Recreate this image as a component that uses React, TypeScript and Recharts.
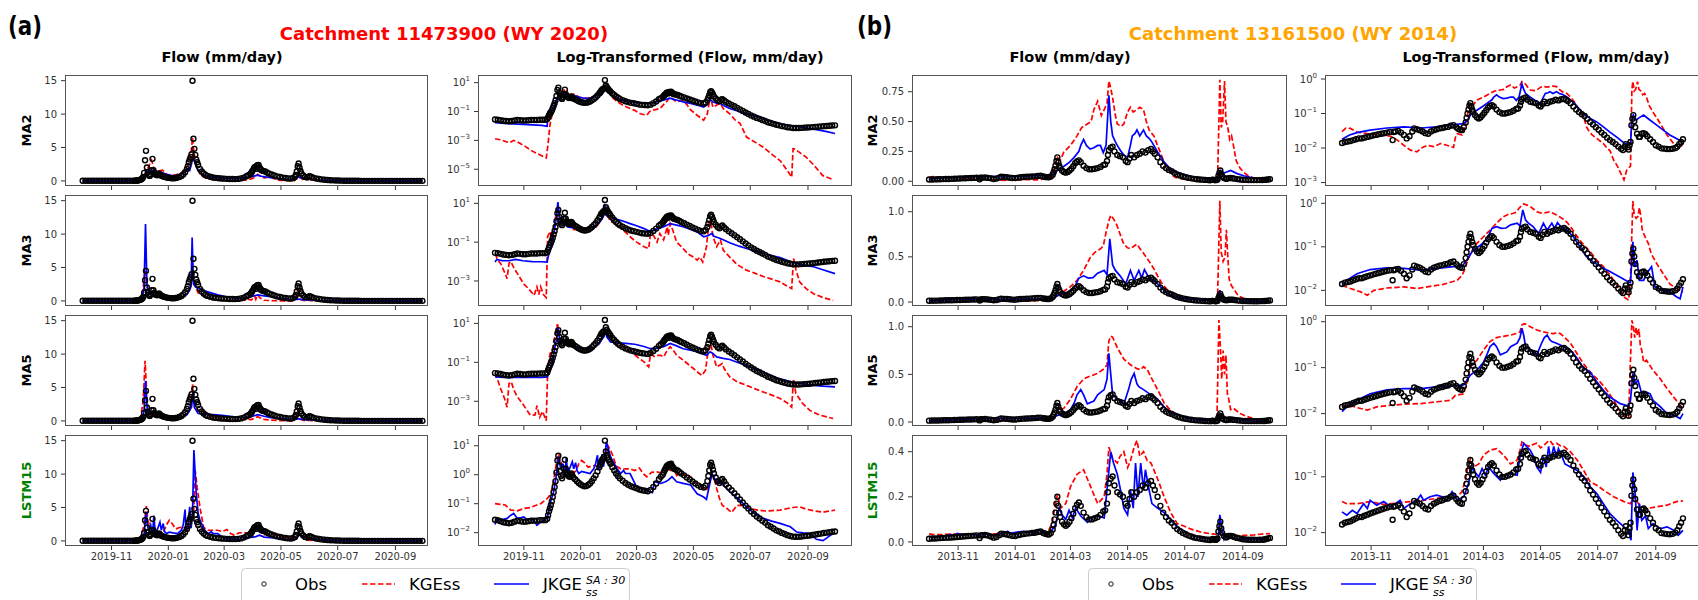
import React from 'react';
import { ComposedChart, Line, XAxis, YAxis } from 'recharts';

type P = [number, number];

// day 0 = 2019-10-01 (catchment 11473900, WY 2020)
const ticksA = [31, 92, 152, 213, 274, 336];
const tickLabelsA = ['2019-11', '2020-01', '2020-03', '2020-05', '2020-07', '2020-09'];
// day 0 = 2013-10-01 (catchment 13161500, WY 2014)
const ticksB = [31, 92, 151, 212, 273, 335];
const tickLabelsB = ['2013-11', '2014-01', '2014-03', '2014-05', '2014-07', '2014-09'];

const models = ['MA2', 'MA3', 'MA5', 'LSTM15'];

const obsA: P[] = [
  [0, 0.028], [3, 0.027], [6, 0.025], [9, 0.023], [12, 0.022], [15, 0.021], [18, 0.022], [21, 0.024], [24, 0.026],
  [27, 0.025], [30, 0.024], [33, 0.024], [36, 0.025], [39, 0.026], [42, 0.026], [45, 0.026], [48, 0.027], [51, 0.027],
  [54, 0.027], [56, 0.03], [57, 0.04], [58, 0.055], [59, 0.07], [60, 0.09], [61, 0.12], [62, 0.17], [63, 0.25],
  [64, 0.38], [65, 0.6], [66, 1.2], [67, 3.1], [68, 4.5], [69, 2.0], [70, 1.3], [71, 0.9], [72, 0.75], [73, 1.0],
  [74, 1.6], [75, 3.3], [76, 1.6], [77, 1.2], [78, 1.0], [79, 0.9], [80, 0.85], [81, 1.0], [82, 1.1], [83, 0.95],
  [84, 0.8], [86, 0.7], [88, 0.6], [90, 0.52], [92, 0.46], [94, 0.42], [96, 0.4], [98, 0.41], [100, 0.44], [102, 0.5],
  [104, 0.6], [106, 0.75], [108, 0.95], [110, 1.3], [112, 1.8], [113, 2.2], [114, 2.8], [115, 3.2], [116, 3.6],
  [117, 4.0], [118, 15.0], [119, 6.3], [120, 4.8], [121, 3.9], [122, 3.2], [123, 2.8], [124, 2.4], [126, 1.8],
  [128, 1.4], [130, 1.1], [132, 0.9], [134, 0.75], [137, 0.62], [140, 0.52], [143, 0.45], [146, 0.4], [149, 0.37],
  [152, 0.34], [155, 0.31], [158, 0.29], [161, 0.28], [164, 0.27], [167, 0.3], [170, 0.38], [173, 0.5], [176, 0.7],
  [178, 0.85], [180, 1.0], [181, 1.2], [182, 1.4], [183, 1.6], [184, 1.9], [185, 2.1], [186, 1.8], [187, 2.3],
  [188, 2.2], [189, 2.4], [190, 2.0], [191, 1.8], [192, 1.6], [194, 1.5], [196, 1.4], [198, 1.25], [200, 1.1],
  [203, 0.95], [206, 0.8], [209, 0.68], [212, 0.58], [215, 0.5], [218, 0.43], [221, 0.38], [224, 0.36], [226, 0.42],
  [228, 0.6], [229, 0.9], [230, 1.4], [231, 2.2], [232, 2.6], [233, 2.0], [234, 1.5], [235, 1.1], [237, 0.8],
  [239, 0.6], [241, 0.52], [243, 0.65], [244, 0.72], [246, 0.58], [248, 0.46], [251, 0.36], [254, 0.29], [257, 0.23],
  [260, 0.18], [263, 0.14], [266, 0.11], [269, 0.085], [272, 0.068], [275, 0.054], [278, 0.044], [281, 0.036],
  [284, 0.031], [287, 0.026], [290, 0.022], [293, 0.018], [296, 0.016], [299, 0.014], [302, 0.012], [305, 0.011],
  [308, 0.0098], [311, 0.009], [314, 0.0082], [317, 0.0077], [320, 0.0073], [323, 0.0072], [326, 0.0072],
  [329, 0.0074], [332, 0.0076], [335, 0.0078], [338, 0.008], [341, 0.0083], [344, 0.0086], [347, 0.009],
  [350, 0.0093], [353, 0.0097], [356, 0.01], [359, 0.0104], [362, 0.0108], [365, 0.011],
];

const kgeA_MA2: P[] = [
  [0, 0.0013], [6, 0.0011], [12, 0.0008], [16, 0.0007], [20, 0.001], [24, 0.0008], [32, 0.0004], [40, 0.00018],
  [48, 0.0001], [55, 0.00006], [57, 0.0006], [59, 0.012], [61, 0.05], [63, 0.1], [65, 0.35], [67, 1.1], [68, 1.4],
  [70, 1.9], [72, 2.5], [74, 3.1], [76, 2.1], [78, 1.6], [82, 1.5], [86, 1.6], [90, 1.0], [95, 0.8], [100, 0.9],
  [105, 1.1], [110, 1.6], [114, 2.6], [116, 3.5], [118, 6.5], [119, 5.0], [121, 3.0], [124, 1.6], [127, 0.8],
  [132, 0.45], [137, 0.28], [142, 0.2], [150, 0.12], [156, 0.07], [163, 0.055], [166, 0.1], [171, 0.13], [177, 0.16],
  [181, 0.3], [184, 0.47], [188, 1.0], [191, 0.7], [195, 0.47], [199, 0.55], [202, 0.6], [206, 0.3], [210, 0.13],
  [214, 0.08], [217, 0.055], [224, 0.025], [228, 0.07], [231, 1.1], [234, 0.2], [238, 0.28], [242, 0.36], [245, 0.16],
  [252, 0.07], [258, 0.025], [263, 0.015], [270, 0.0017], [280, 0.0007], [288, 0.00034], [298, 0.0001],
  [306, 0.00004], [314, 0.000008], [318.5, 0.0000028], [320, 0.00026], [322, 0.00025], [328, 0.00013],
  [334, 0.00007], [342, 0.00002], [352, 0.0000036], [363, 0.0000019],
];
const jkgeA_MA2: P[] = [
  [0, 0.017], [10, 0.015], [20, 0.014], [30, 0.013], [40, 0.012], [50, 0.011], [56, 0.0095], [57, 0.1], [60, 0.13],
  [63, 0.16], [65, 0.4], [67, 1.0], [69, 1.3], [72, 1.5], [75, 1.6], [78, 1.4], [82, 1.4], [86, 1.2], [90, 1.0],
  [95, 0.85], [100, 0.8], [105, 1.0], [110, 1.3], [113, 1.8], [115, 1.6], [117, 2.6], [118.5, 3.8], [120, 3.0],
  [123, 1.8], [127, 1.1], [131, 0.8], [138, 0.6], [145, 0.47], [155, 0.4], [163, 0.36], [170, 0.42], [177, 0.55],
  [181, 0.6], [185, 0.75], [188, 0.85], [192, 0.7], [196, 0.6], [202, 0.47], [210, 0.36], [217, 0.28], [224, 0.2],
  [228, 0.3], [231, 0.7], [234, 0.45], [238, 0.38], [242, 0.36], [246, 0.25], [252, 0.16], [262, 0.1], [270, 0.068],
  [280, 0.047], [288, 0.034], [300, 0.018], [312, 0.012], [324, 0.0095], [335, 0.007], [345, 0.0055], [355, 0.0042],
  [365, 0.003],
];

const kgeA_MA3: P[] = [
  [0, 0.026], [3, 0.012], [6, 0.008], [10, 0.003], [13, 0.0013], [15, 0.008], [17, 0.01], [20, 0.005], [25, 0.002],
  [31, 0.0007], [36, 0.0004], [42, 0.00018], [45, 0.0005], [47, 0.0002], [49, 0.0005], [52, 0.0002], [55, 0.00014],
  [56.5, 0.19], [59, 0.35], [61, 0.15], [63, 0.5], [65, 2.0], [67, 4.5], [69, 2.0], [72, 1.4], [76, 1.5], [80, 1.3],
  [84, 0.45], [90, 0.42], [96, 0.5], [102, 0.45], [108, 0.55], [112, 1.0], [115, 1.8], [117, 3.0], [118.5, 4.3],
  [120, 2.5], [124, 1.2], [131, 0.76], [138, 0.4], [145, 0.19], [152, 0.1], [160, 0.058], [165, 0.047], [167, 0.28],
  [170, 0.23], [174, 0.1], [177, 0.28], [181, 0.13], [185, 0.62], [186, 0.23], [188, 0.9], [191, 0.4], [195, 0.1],
  [202, 0.047], [207, 0.025], [213, 0.017], [217, 0.012], [220, 0.017], [223, 0.0095], [227, 0.058], [229, 0.5],
  [231, 2.0], [234, 0.19], [238, 0.058], [242, 0.13], [245, 0.039], [252, 0.017], [260, 0.007], [270, 0.0036],
  [280, 0.0024], [288, 0.0017], [298, 0.0012], [306, 0.0009], [312, 0.0006], [318.5, 0.0004], [320.5, 0.0145],
  [323, 0.004], [327, 0.0009], [334, 0.0004], [342, 0.00022], [352, 0.00014], [363, 0.0001],
];
const jkgeA_MA3: P[] = [
  [0, 0.0095], [2, 0.013], [8, 0.011], [15, 0.011], [22, 0.013], [30, 0.011], [40, 0.01], [50, 0.0098], [56, 0.0095],
  [57, 0.017], [61, 0.13], [64, 0.5], [66, 2.0], [67.5, 11.5], [69, 2.5], [71, 1.0], [74, 0.9], [78, 0.6], [84, 0.55],
  [90, 0.5], [96, 0.5], [102, 0.55], [108, 0.7], [112, 1.0], [115, 1.6], [116.5, 2.2], [117.6, 9.5], [119, 2.5],
  [122, 2.0], [126, 1.8], [131, 1.5], [138, 1.2], [145, 0.9], [152, 0.7], [160, 0.5], [167, 0.34], [170, 0.42],
  [175, 0.5], [181, 0.62], [188, 0.9], [195, 0.75], [202, 0.62], [210, 0.45], [217, 0.34], [224, 0.19], [229, 0.22],
  [233, 0.28], [235, 0.2], [242, 0.155], [252, 0.093], [262, 0.062], [270, 0.047], [280, 0.034], [288, 0.026],
  [298, 0.02], [306, 0.016], [315, 0.011], [324, 0.008], [334, 0.0062], [342, 0.0054], [352, 0.0038], [365, 0.0024],
];

const kgeA_MA5: P[] = [
  [0, 0.029], [3, 0.012], [6, 0.0045], [10, 0.0015], [13, 0.0005], [15, 0.008], [17.5, 0.01], [20, 0.004],
  [24, 0.0017], [30, 0.0007], [38, 0.00019], [43, 0.0002], [45, 0.0006], [48, 0.00015], [51, 0.0003], [55, 0.0001],
  [56.5, 0.032], [58, 0.15], [60, 0.42], [62, 0.5], [63, 1.2], [65, 3.0], [67, 9.0], [68.5, 5.0], [70, 1.4], [72, 0.9],
  [76, 0.8], [80, 0.7], [86, 0.6], [92, 0.5], [98, 0.45], [104, 0.5], [110, 0.8], [114, 1.4], [116, 2.0], [118, 5.5],
  [119.5, 3.0], [122, 1.8], [126, 1.4], [131, 1.1], [138, 0.65], [145, 0.42], [152, 0.2], [160, 0.105], [165, 0.058],
  [167, 0.28], [171, 0.2], [175, 0.23], [178, 0.23], [181, 0.19], [185, 0.42], [188, 0.63], [192, 0.38], [195, 0.23],
  [202, 0.13], [208, 0.075], [213, 0.048], [218, 0.03], [222, 0.021], [226, 0.039], [228, 0.2], [231, 1.4],
  [234, 0.23], [238, 0.058], [242, 0.075], [244, 0.087], [246, 0.048], [252, 0.018], [260, 0.01], [270, 0.0066],
  [280, 0.0042], [288, 0.003], [298, 0.002], [306, 0.0014], [314, 0.0008], [318.5, 0.0005], [320.5, 0.014],
  [323, 0.0025], [330, 0.0008], [338, 0.00034], [348, 0.0002], [363, 0.00013],
];
const jkgeA_MA5: P[] = [
  [0, 0.018], [10, 0.017], [20, 0.017], [30, 0.017], [40, 0.017], [50, 0.017], [56, 0.018], [58, 0.027], [61, 0.087],
  [64, 0.5], [66, 1.5], [67.5, 6.0], [69.5, 1.5], [72, 1.1], [76, 0.8], [82, 0.65], [90, 0.55], [98, 0.5], [106, 0.55],
  [112, 0.9], [115, 1.6], [117, 2.1], [118.5, 4.2], [120, 2.0], [124, 1.1], [131, 1.0], [140, 0.95], [150, 0.85],
  [160, 0.65], [167, 0.5], [175, 0.55], [181, 0.63], [188, 0.93], [195, 0.7], [202, 0.5], [210, 0.42], [217, 0.35],
  [222, 0.28], [227, 0.23], [231, 0.35], [234, 0.28], [238, 0.19], [245, 0.16], [252, 0.14], [260, 0.1], [270, 0.07],
  [280, 0.045], [288, 0.032], [298, 0.02], [306, 0.014], [315, 0.011], [324, 0.0087], [334, 0.0075], [342, 0.0066],
  [352, 0.006], [365, 0.0055],
];

const kgeA_L15: P[] = [
  [0, 0.1], [6, 0.095], [11, 0.09], [17, 0.06], [24, 0.057], [31, 0.068], [38, 0.074], [45, 0.09], [49, 0.1],
  [56, 0.15], [60, 0.22], [63, 0.65], [66, 2.5], [68.5, 5.2], [70, 3.0], [73, 2.0], [76, 1.6], [80, 1.4], [84, 1.1],
  [87, 1.4], [90, 2.4], [93, 3.1], [96, 2.6], [100, 1.8], [104, 2.0], [108, 2.1], [112, 1.6], [115, 2.1], [117, 2.6],
  [119, 3.6], [121, 10.5], [123, 8.0], [126, 5.0], [130, 2.0], [135, 1.6], [140, 1.6], [145, 1.6], [150, 1.4],
  [155, 1.7], [159, 1.1], [163, 0.85], [168, 1.2], [174, 1.25], [180, 1.1], [184, 1.6], [188, 1.4], [192, 1.6],
  [195, 0.93], [200, 1.1], [205, 1.0], [210, 0.85], [214, 0.6], [217, 0.5], [222, 0.38], [227, 0.29], [230, 0.5],
  [233, 1.1], [236, 0.6], [238, 0.33], [241, 0.15], [244, 0.088], [249, 0.068], [254, 0.05], [260, 0.088],
  [268, 0.085], [274, 0.068], [282, 0.06], [290, 0.056], [298, 0.058], [306, 0.06], [314, 0.068], [320, 0.074],
  [327, 0.078], [334, 0.065], [342, 0.057], [352, 0.051], [358, 0.055], [365, 0.06],
];
const jkgeA_L15: P[] = [
  [0, 0.019], [2, 0.03], [6, 0.027], [13, 0.031], [17, 0.04], [20, 0.046], [24, 0.031], [28, 0.033], [31, 0.035],
  [35, 0.027], [39, 0.031], [42, 0.025], [45, 0.018], [49, 0.023], [53, 0.028], [56, 0.031], [60, 0.13], [63, 0.26],
  [66, 1.0], [68, 4.3], [70, 2.0], [71, 1.6], [73, 2.4], [75, 0.85], [76.5, 3.8], [78, 1.1], [80, 1.6], [83, 2.8],
  [84.5, 1.6], [86.5, 2.6], [88, 1.4], [90, 1.1], [93, 1.3], [97, 1.2], [102, 1.1], [106, 1.6], [108, 2.4],
  [110, 4.7], [111, 1.6], [113, 2.0], [115, 5.1], [116.5, 1.9], [118, 4.0], [119.5, 13.6], [122, 7.1], [124, 4.2],
  [126, 3.1], [131, 1.6], [135, 1.1], [138, 1.4], [140, 1.1], [145, 1.1], [152, 0.38], [158, 0.32], [163, 0.28],
  [169, 0.24], [171, 0.57], [178, 0.5], [183, 0.57], [186, 0.65], [190, 0.85], [195, 0.57], [202, 0.5], [210, 0.44],
  [217, 0.22], [224, 0.17], [227, 0.14], [230, 0.4], [233, 1.1], [236, 0.7], [238, 0.57], [245, 0.44], [252, 0.26],
  [258, 0.18], [263, 0.13], [268, 0.09], [274, 0.06], [281, 0.042], [288, 0.031], [297, 0.025], [306, 0.021],
  [317, 0.016], [324, 0.0105], [331, 0.0098], [338, 0.0093], [345, 0.0059], [352, 0.0053], [356, 0.0065],
  [360, 0.0081], [365, 0.01],
];

const obsB: P[] = [
  [0, 0.014], [3, 0.015], [6, 0.0155], [9, 0.016], [12, 0.017], [15, 0.018], [18, 0.019], [21, 0.019], [24, 0.02],
  [27, 0.021], [30, 0.022], [33, 0.023], [36, 0.024], [39, 0.025], [42, 0.026], [45, 0.027], [48, 0.028], [51, 0.029],
  [54, 0.017], [55, 0.029], [57, 0.03], [60, 0.031], [63, 0.028], [66, 0.024], [69, 0.019], [72, 0.022], [75, 0.03],
  [77, 0.037], [80, 0.035], [83, 0.033], [86, 0.03], [89, 0.027], [92, 0.026], [95, 0.03], [98, 0.033], [101, 0.035],
  [104, 0.037], [107, 0.038], [110, 0.04], [113, 0.041], [116, 0.044], [119, 0.046], [122, 0.04], [124, 0.036],
  [126, 0.034], [128, 0.033], [130, 0.04], [132, 0.055], [133, 0.075], [134, 0.1], [135, 0.13], [136, 0.17],
  [137, 0.2], [138, 0.16], [139, 0.13], [140, 0.11], [142, 0.09], [144, 0.078], [146, 0.072], [148, 0.078],
  [150, 0.09], [152, 0.105], [154, 0.125], [156, 0.15], [158, 0.165], [160, 0.175], [162, 0.16], [165, 0.13],
  [168, 0.11], [171, 0.1], [174, 0.1], [177, 0.105], [180, 0.11], [183, 0.12], [186, 0.135], [188, 0.14], [190, 0.17],
  [191, 0.22], [192, 0.26], [194, 0.28], [196, 0.29], [198, 0.25], [201, 0.22], [204, 0.21], [207, 0.2], [210, 0.17],
  [212, 0.16], [214, 0.19], [216, 0.22], [219, 0.2], [222, 0.22], [225, 0.23], [228, 0.25], [231, 0.24], [234, 0.26],
  [237, 0.27], [239, 0.25], [241, 0.23], [244, 0.2], [247, 0.16], [250, 0.13], [253, 0.11], [256, 0.095],
  [259, 0.085], [262, 0.07], [265, 0.057], [268, 0.048], [271, 0.04], [274, 0.034], [277, 0.028], [280, 0.024],
  [283, 0.02], [286, 0.017], [289, 0.015], [292, 0.013], [295, 0.011], [298, 0.0095], [300, 0.0087], [302, 0.011],
  [303, 0.013], [305, 0.0105], [306, 0.009], [307, 0.012], [308, 0.015], [309, 0.046], [310, 0.07], [311, 0.09],
  [312, 0.06], [313, 0.04], [315, 0.026], [317, 0.021], [318, 0.021], [320, 0.026], [322, 0.027], [324, 0.025],
  [326, 0.022], [329, 0.018], [332, 0.015], [335, 0.012], [338, 0.011], [341, 0.0098], [344, 0.0096], [347, 0.0094],
  [350, 0.0093], [353, 0.0095], [356, 0.01], [358, 0.011], [360, 0.013], [362, 0.015], [364, 0.018],
];

const kgeB_MA2: P[] = [
  [0, 0.03], [4, 0.038], [9, 0.037], [16, 0.029], [27, 0.026], [41, 0.024], [52, 0.022], [59, 0.017], [66, 0.012],
  [73, 0.0087], [80, 0.0078], [84, 0.0098], [91, 0.012], [98, 0.011], [105, 0.0135], [112, 0.012], [119, 0.0104],
  [121, 0.02], [123, 0.026], [128, 0.024], [131, 0.04], [133, 0.072], [137, 0.2], [140, 0.175], [144, 0.245],
  [151, 0.3], [158, 0.38], [163, 0.45], [169, 0.48], [173, 0.5], [176, 0.6], [180, 0.67], [184, 0.55], [187, 0.6],
  [190, 0.65], [192, 0.84], [194, 0.78], [196, 0.7], [199, 0.55], [201, 0.48], [205, 0.46], [208, 0.48], [212, 0.58],
  [215, 0.62], [218, 0.58], [222, 0.6], [225, 0.62], [229, 0.6], [232, 0.5], [235, 0.43], [240, 0.38], [244, 0.3],
  [248, 0.22], [251, 0.16], [255, 0.1], [258, 0.08], [261, 0.041], [264, 0.03], [267, 0.024], [272, 0.019],
  [279, 0.0135], [283, 0.0098], [286, 0.0085], [290, 0.0045], [294, 0.003], [297, 0.002], [301, 0.0012],
  [304, 0.0023], [308, 0.003], [309.5, 0.5], [310.5, 0.85], [312, 0.45], [313.5, 0.5], [315.5, 0.84], [317, 0.5],
  [319, 0.45], [321, 0.35], [323, 0.38], [325, 0.3], [328, 0.17], [332, 0.11], [336, 0.075], [340, 0.05],
  [347, 0.024], [354, 0.0135], [361, 0.0098], [364, 0.0135],
];
const jkgeB_MA2: P[] = [
  [0, 0.018], [8, 0.024], [16, 0.028], [30, 0.033], [48, 0.038], [66, 0.041], [84, 0.038], [101, 0.041],
  [119, 0.048], [130, 0.051], [134, 0.065], [137, 0.09], [144, 0.125], [150, 0.16], [155, 0.2], [160, 0.25],
  [162, 0.3], [165, 0.35], [168, 0.3], [172, 0.27], [176, 0.28], [180, 0.3], [183, 0.3], [186, 0.24], [189, 0.3],
  [192, 0.72], [194, 0.5], [196, 0.38], [199, 0.33], [201, 0.3], [205, 0.25], [208, 0.22], [212, 0.2], [215, 0.3],
  [217, 0.38], [220, 0.4], [222, 0.43], [225, 0.38], [229, 0.43], [232, 0.38], [235, 0.36], [237, 0.34], [240, 0.3],
  [244, 0.245], [248, 0.2], [251, 0.16], [258, 0.1], [265, 0.072], [272, 0.057], [279, 0.041], [286, 0.029],
  [293, 0.021], [301, 0.014], [308, 0.013], [309.5, 0.064], [311, 0.09], [314, 0.064], [317, 0.075], [322, 0.09],
  [329, 0.064], [336, 0.046], [343, 0.033], [350, 0.024], [357, 0.019], [364, 0.015],
];

const kgeB_MA3: P[] = [
  [0, 0.013], [9, 0.011], [20, 0.0092], [27, 0.0077], [34, 0.01], [48, 0.0113], [66, 0.012], [80, 0.011],
  [94, 0.0123], [108, 0.0137], [123, 0.017], [128, 0.022], [131, 0.03], [133, 0.041], [137, 0.07], [144, 0.12],
  [151, 0.17], [158, 0.24], [165, 0.35], [172, 0.49], [177, 0.55], [183, 0.59], [186, 0.62], [189, 0.77], [192, 0.9],
  [194, 0.96], [197, 0.92], [201, 0.84], [205, 0.72], [208, 0.64], [212, 0.6], [215, 0.59], [219, 0.62], [222, 0.64],
  [226, 0.58], [229, 0.54], [235, 0.45], [240, 0.37], [244, 0.29], [249, 0.2], [254, 0.14], [260, 0.1], [265, 0.077],
  [272, 0.049], [279, 0.035], [285, 0.024], [290, 0.017], [297, 0.01], [302, 0.0068], [306, 0.006], [308, 0.02],
  [310.5, 1.12], [312, 0.55], [314, 0.45], [316, 0.5], [317.5, 0.8], [319, 0.5], [320.5, 0.25], [323, 0.18],
  [327, 0.12], [330, 0.07], [336, 0.041], [343, 0.024], [350, 0.014], [357, 0.011], [364, 0.0092],
];
const jkgeB_MA3: P[] = [
  [0, 0.0123], [5, 0.017], [16, 0.024], [30, 0.03], [48, 0.033], [66, 0.032], [84, 0.029], [101, 0.032],
  [119, 0.035], [128, 0.035], [133, 0.049], [140, 0.084], [148, 0.11], [155, 0.155], [160, 0.265], [165, 0.29],
  [170, 0.265], [175, 0.27], [180, 0.32], [187, 0.35], [190, 0.3], [193, 0.7], [196, 0.41], [199, 0.35], [204, 0.29],
  [210, 0.2], [215, 0.35], [219, 0.24], [224, 0.35], [227, 0.265], [230, 0.36], [235, 0.265], [240, 0.24],
  [247, 0.17], [254, 0.1], [261, 0.059], [268, 0.045], [279, 0.032], [286, 0.027], [297, 0.02], [306, 0.0155],
  [308, 0.015], [310.5, 0.13], [312.5, 0.035], [315, 0.049], [317.5, 0.017], [322, 0.017], [325, 0.024],
  [330.5, 0.035], [334, 0.012], [343, 0.01], [350, 0.0092], [357, 0.0071], [361, 0.0064], [364, 0.012],
];

const kgeB_MA5: P[] = [
  [0, 0.014], [8, 0.0152], [16, 0.0135], [27, 0.0119], [37, 0.014], [52, 0.0152], [66, 0.016], [84, 0.0165],
  [101, 0.018], [116, 0.0195], [121, 0.025], [130, 0.027], [133, 0.045], [137, 0.104], [144, 0.145], [151, 0.24],
  [158, 0.37], [165, 0.45], [169, 0.47], [180, 0.51], [187, 0.56], [190, 0.6], [192, 0.85], [194, 0.9], [196, 0.89],
  [201, 0.78], [208, 0.66], [215, 0.6], [222, 0.56], [226, 0.55], [229, 0.58], [233, 0.55], [237, 0.47], [244, 0.34],
  [251, 0.2], [258, 0.12], [263, 0.09], [268, 0.069], [275.5, 0.049], [283, 0.032], [290, 0.0195], [297, 0.011],
  [302, 0.0085], [306, 0.0078], [307.5, 0.08], [309.5, 1.07], [311, 0.8], [312.5, 0.45], [314, 0.75], [315.5, 0.5],
  [317, 0.7], [318.5, 0.3], [320, 0.24], [322, 0.13], [325, 0.145], [332, 0.088], [339.5, 0.058], [347, 0.035],
  [354, 0.023], [361, 0.0152], [364, 0.0119],
];
const jkgeB_MA5: P[] = [
  [0, 0.011], [5, 0.014], [16, 0.0195], [30, 0.027], [48, 0.033], [66, 0.035], [84, 0.035], [101, 0.038],
  [119, 0.04], [130, 0.042], [137, 0.069], [144, 0.088], [151, 0.13], [155, 0.2], [158, 0.285], [162, 0.34],
  [165, 0.285], [169, 0.19], [176, 0.22], [180, 0.285], [187, 0.34], [190, 0.45], [192, 0.72], [194, 0.5],
  [196, 0.285], [200, 0.25], [204.5, 0.22], [208, 0.19], [213, 0.34], [216, 0.45], [219, 0.51], [222, 0.4],
  [224, 0.37], [229, 0.34], [237, 0.285], [244, 0.24], [251, 0.16], [258, 0.096], [265, 0.08], [272, 0.049],
  [279, 0.032], [286, 0.023], [297, 0.0165], [306, 0.0145], [308, 0.0195], [310.5, 0.075], [313, 0.045],
  [316, 0.053], [320, 0.027], [324, 0.03], [329, 0.027], [332, 0.0195], [340, 0.014], [347, 0.01], [354, 0.0093],
  [361, 0.0078], [364, 0.01],
];

const kgeB_L15: P[] = [
  [0, 0.036], [5, 0.033], [16, 0.033], [30, 0.036], [44, 0.032], [59, 0.034], [73, 0.036], [87, 0.038], [101, 0.041],
  [112, 0.044], [123, 0.044], [128, 0.054], [131.6, 0.087], [135, 0.17], [137, 0.21], [140.5, 0.15], [146, 0.17],
  [151, 0.245], [158, 0.3], [165, 0.32], [172.5, 0.245], [180, 0.17], [187, 0.2], [190, 0.3], [192, 0.42],
  [196, 0.37], [201, 0.35], [204, 0.38], [208, 0.4], [212, 0.33], [215, 0.36], [219, 0.42], [222, 0.45], [225, 0.38],
  [229, 0.4], [233, 0.36], [237, 0.35], [244, 0.28], [251, 0.2], [258, 0.13], [265, 0.081], [272, 0.071],
  [279, 0.058], [290, 0.044], [301, 0.036], [308, 0.033], [311, 0.044], [318, 0.031], [325, 0.027], [336, 0.029],
  [347, 0.031], [357, 0.036], [364, 0.037],
];
const jkgeB_L15: P[] = [
  [0, 0.0235], [5, 0.0205], [11, 0.025], [16, 0.022], [23, 0.033], [27, 0.027], [30, 0.038], [37, 0.031],
  [44.5, 0.036], [52, 0.029], [57, 0.033], [62, 0.038], [66, 0.027], [73, 0.033], [80, 0.038], [84, 0.047],
  [87, 0.038], [94, 0.044], [101, 0.047], [107, 0.044], [112, 0.038], [117.5, 0.054], [123, 0.038], [130, 0.044],
  [135, 0.076], [139, 0.15], [142, 0.12], [146, 0.1], [149.5, 0.14], [153, 0.107], [156.5, 0.15], [162, 0.115],
  [169, 0.087], [172.5, 0.107], [180, 0.115], [187, 0.107], [190, 0.23], [194, 0.4], [197, 0.35], [201, 0.3],
  [204.5, 0.23], [208, 0.15], [212, 0.12], [215, 0.23], [218, 0.15], [220.5, 0.35], [223, 0.2], [226, 0.35],
  [229, 0.23], [231, 0.32], [235, 0.23], [238, 0.17], [244, 0.15], [251, 0.13], [258, 0.1], [265, 0.066], [272, 0.05],
  [279, 0.033], [286, 0.022], [293, 0.0167], [301, 0.0127], [306, 0.011], [308.5, 0.0073], [310.5, 0.12],
  [313, 0.05], [315, 0.011], [317.5, 0.033], [320, 0.0167], [324, 0.02], [327, 0.0118], [332, 0.0145],
  [340, 0.0118], [347, 0.0127], [354, 0.011], [359, 0.009], [364, 0.011],
];

const kgeA = [kgeA_MA2, kgeA_MA3, kgeA_MA5, kgeA_L15];
const jkgeA = [jkgeA_MA2, jkgeA_MA3, jkgeA_MA5, jkgeA_L15];
const kgeB = [kgeB_MA2, kgeB_MA3, kgeB_MA5, kgeB_L15];
const jkgeB = [jkgeB_MA2, jkgeB_MA3, jkgeB_MA5, jkgeB_L15];

// ---- layout ----
const FONT = '"DejaVu Sans", sans-serif';
const YW = 60;
const XH = 22;
const TM = 10; // room above the plot for the top tick label
const PH = 111;
const ROWS = [75, 195, 315, 435];
const COLS = [
  { x: 65, w: 363, dom: [-19, 371] },
  { x: 478, w: 374, dom: [-18.25, 383.25] },
  { x: 912, w: 375, dom: [-18.2, 382.2] },
  { x: 1325, w: 375, dom: [-18.2, 382.2] },
];

type YCfg = { log: boolean; dom: number[]; ticks: number[]; dec?: number };
const p10 = (e: number) => Math.pow(10, e);
const yCfg: YCfg[][] = [
  [0, 1, 2, 3].map(() => ({ log: false, dom: [-0.76, 15.85], ticks: [0, 5, 10, 15], dec: 0 })),
  [
    { log: true, dom: [p10(-6.16), p10(1.53)], ticks: [10, 0.1, 1e-3, 1e-5] },
    { log: true, dom: [p10(-4.29), p10(1.43)], ticks: [10, 0.1, 1e-3] },
    { log: true, dom: [p10(-4.27), p10(1.43)], ticks: [10, 0.1, 1e-3] },
    { log: true, dom: [p10(-2.46), p10(1.37)], ticks: [10, 1, 0.1, 0.01] },
  ],
  [
    { log: false, dom: [-0.04, 0.89], ticks: [0, 0.25, 0.5, 0.75], dec: 2 },
    { log: false, dom: [-0.044, 1.185], ticks: [0, 0.5, 1], dec: 1 },
    { log: false, dom: [-0.042, 1.123], ticks: [0, 0.5, 1], dec: 1 },
    { log: false, dom: [-0.018, 0.474], ticks: [0, 0.2, 0.4], dec: 1 },
  ],
  [
    { log: true, dom: [p10(-3.1), p10(0.116)], ticks: [1, 0.1, 0.01, 0.001] },
    { log: true, dom: [p10(-2.36), p10(0.19)], ticks: [1, 0.1, 0.01] },
    { log: true, dom: [p10(-2.27), p10(0.146)], ticks: [1, 0.1, 0.01] },
    { log: true, dom: [p10(-2.24), p10(-0.25)], ticks: [0.1, 0.01] },
  ],
];

const toData = (s: P[]) => s.map(([d, v]) => ({ d, v }));

function makeYTick(cfg: YCfg) {
  return (props: any) => {
    const { x, y, payload } = props;
    if (cfg.log) {
      const e = Math.round(Math.log10(payload.value));
      return (
        <text x={x} y={y} dy="0.36em" textAnchor="end" fontSize={10} fontFamily={FONT} fill="#333">
          10<tspan dy={-5} fontSize={7}>{e < 0 ? '\u2212' + -e : String(e)}</tspan>
        </text>
      );
    }
    return (
      <text x={x} y={y} dy="0.36em" textAnchor="end" fontSize={10} fontFamily={FONT} fill="#333">
        {payload.value.toFixed(cfg.dec)}
      </text>
    );
  };
}

function makeXTick(ticks: number[], labels: string[], show: boolean) {
  return (props: any) => {
    if (!show) return <g />;
    const { x, y, payload } = props;
    const i = ticks.indexOf(payload.value);
    return (
      <text x={x} y={y} dy="0.71em" textAnchor="middle" fontSize={10} fontFamily={FONT} fill="#333">
        {labels[i]}
      </text>
    );
  };
}

function Panel({ col, row }: { col: number; row: number }) {
  const c = COLS[col];
  const cfg = yCfg[col][row];
  const isA = col < 2;
  const obs = toData(isA ? obsA : obsB);
  const kge = toData((isA ? kgeA : kgeB)[row]);
  const jkge = toData((isA ? jkgeA : jkgeB)[row]);
  const ticks = isA ? ticksA : ticksB;
  const labels = isA ? tickLabelsA : tickLabelsB;
  return (
    <div style={{ position: 'absolute', left: c.x - YW, top: ROWS[row] - TM }}>
      <ComposedChart width={c.w + YW} height={PH + XH + TM} margin={{ top: TM, right: 0, bottom: 0, left: 0 }}>
        <XAxis
          dataKey="d"
          type="number"
          domain={c.dom}
          ticks={ticks}
          interval={0}
          allowDataOverflow
          height={XH}
          axisLine={false}
          stroke="#333"
          tickSize={4}
          tickMargin={3}
          tick={makeXTick(ticks, labels, row === 3)}
        />
        <YAxis
          dataKey="v"
          type="number"
          scale={cfg.log ? 'log' : 'linear'}
          domain={cfg.dom}
          ticks={cfg.ticks}
          interval={0}
          allowDataOverflow
          width={YW}
          axisLine={false}
          stroke="#333"
          tickSize={4}
          tickMargin={4}
          tick={makeYTick(cfg)}
        />
        <Line
          data={obs}
          dataKey="v"
          stroke="none"
          isAnimationActive={false}
          dot={(p: any) => (
            <circle key={p.index} cx={p.cx} cy={p.cy} r={2.5} fill="none" stroke="#000" strokeWidth={1.4} />
          )}
        />
        <Line
          data={kge}
          dataKey="v"
          stroke="#ff0000"
          strokeWidth={1.7}
          strokeDasharray="5.5 2.5"
          dot={false}
          isAnimationActive={false}
        />
        <Line data={jkge} dataKey="v" stroke="#0000ff" strokeWidth={1.7} dot={false} isAnimationActive={false} />
      </ComposedChart>
    </div>
  );
}

function Legend({ x0 }: { x0: number }) {
  const y = 584;
  return (
    <g fontFamily={FONT} fill="#000">
      <rect x={x0 + 0.5} y={568.5} width={388} height={50} rx={4} fill="#fff" stroke="#cccccc" />
      <circle cx={x0 + 23} cy={y} r={2.2} fill="none" stroke="#000" strokeWidth={0.9} />
      <text x={x0 + 54} y={590} fontSize={16.5}>Obs</text>
      <line x1={x0 + 121} x2={x0 + 154} y1={y} y2={y} stroke="#ff0000" strokeWidth={1.6} strokeDasharray="5.5 2.5" />
      <text x={x0 + 168} y={590} fontSize={16.5}>KGEss</text>
      <line x1={x0 + 253} x2={x0 + 288} y1={y} y2={y} stroke="#0000ff" strokeWidth={1.6} />
      <text x={x0 + 302} y={590} fontSize={16.5}>JKGE</text>
      <text x={x0 + 345} y={584} fontSize={11} fontStyle="italic">SA : 30</text>
      <text x={x0 + 345} y={596} fontSize={11} fontStyle="italic">ss</text>
    </g>
  );
}

export default function App() {
  const panels = [];
  for (let c = 0; c < 4; c++) for (let r = 0; r < 4; r++) panels.push(<Panel key={`${c}-${r}`} col={c} row={r} />);
  return (
    <div style={{ position: 'absolute', left: 0, top: 0, width: 1698, height: 600, overflow: 'hidden', background: '#fff' }}>
      {panels}
      <svg width={1698} height={600} style={{ position: 'absolute', left: 0, top: 0, pointerEvents: 'none' }}>
        {COLS.map((c, ci) =>
          ROWS.map((ry, ri) => (
            <rect key={`b${ci}${ri}`} x={c.x + 0.5} y={ry + 0.5} width={c.w - 1} height={PH - 1} fill="none" stroke="#555" strokeWidth={1} />
          ))
        )}
        <g fontFamily={FONT} fontWeight="bold">
          <text x={8} y={35} fontSize={27} textLength={34} lengthAdjust="spacingAndGlyphs">(a)</text>
          <text x={857} y={35} fontSize={27} textLength={35} lengthAdjust="spacingAndGlyphs">(b)</text>
          <text x={444} y={40} fontSize={18} fill="#ff0000" textAnchor="middle">Catchment 11473900 (WY 2020)</text>
          <text x={1293} y={40} fontSize={18} fill="#ffa500" textAnchor="middle">Catchment 13161500 (WY 2014)</text>
          <text x={222} y={62} fontSize={14.5} textAnchor="middle">Flow (mm/day)</text>
          <text x={690} y={62} fontSize={14.5} textAnchor="middle">Log-Transformed (Flow, mm/day)</text>
          <text x={1070} y={62} fontSize={14.5} textAnchor="middle">Flow (mm/day)</text>
          <text x={1536} y={62} fontSize={14.5} textAnchor="middle">Log-Transformed (Flow, mm/day)</text>
          {models.map((m, i) =>
            [26, 872].map((lx) => (
              <text
                key={m + lx}
                x={lx}
                y={ROWS[i] + PH / 2}
                fontSize={13}
                textAnchor="middle"
                dominantBaseline="central"
                fill={m === 'LSTM15' ? '#008000' : '#000'}
                transform={`rotate(-90 ${lx} ${ROWS[i] + PH / 2})`}
              >
                {m}
              </text>
            ))
          )}
        </g>
        <Legend x0={241} />
        <Legend x0={1088} />
      </svg>
    </div>
  );
}
